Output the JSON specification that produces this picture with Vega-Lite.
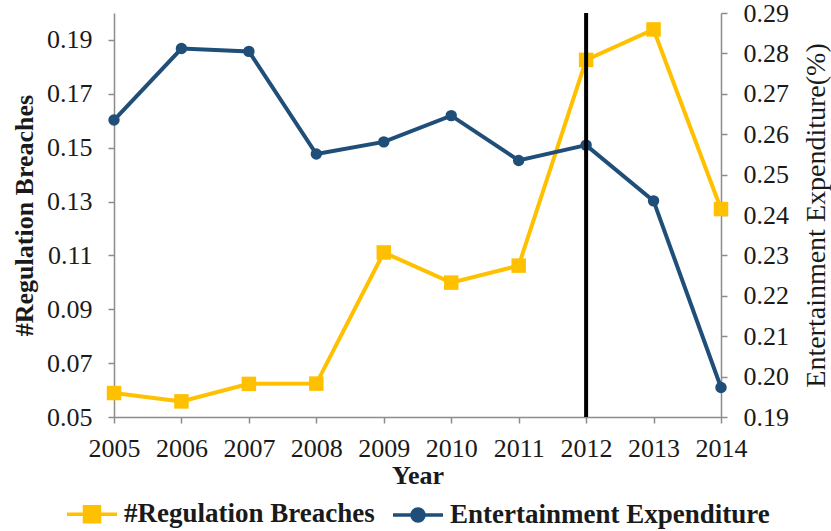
{
  "$schema": "https://vega.github.io/schema/vega-lite/v6.json",
  "width": 607,
  "height": 404,
  "autosize": {"type": "none"},
  "padding": {"left": 114, "top": 13, "right": 110, "bottom": 114},
  "background": "white",
  "config": {
    "view": {"stroke": null},
    "font": "Liberation Serif",
    "axis": {
      "grid": false,
      "domainColor": "#8c8c8c",
      "domainWidth": 1.5,
      "tickColor": "#8c8c8c",
      "tickWidth": 1.5,
      "tickSize": 6,
      "labelFont": "Liberation Serif",
      "labelFontSize": 26,
      "labelColor": "#1a1a1a",
      "labelOverlap": false,
      "labelFlush": false,
      "titleFont": "Liberation Serif",
      "titleFontSize": 26,
      "titleColor": "#1a1a1a"
    }
  },
  "data": {
    "values": [
      {"year": 2005, "series": "#Regulation Breaches", "value": 0.0589},
      {"year": 2006, "series": "#Regulation Breaches", "value": 0.0558},
      {"year": 2007, "series": "#Regulation Breaches", "value": 0.0623},
      {"year": 2008, "series": "#Regulation Breaches", "value": 0.0624},
      {"year": 2009, "series": "#Regulation Breaches", "value": 0.1111},
      {"year": 2010, "series": "#Regulation Breaches", "value": 0.0999},
      {"year": 2011, "series": "#Regulation Breaches", "value": 0.1062},
      {"year": 2012, "series": "#Regulation Breaches", "value": 0.1826},
      {"year": 2013, "series": "#Regulation Breaches", "value": 0.1939},
      {"year": 2014, "series": "#Regulation Breaches", "value": 0.1272},
      {"year": 2005, "series": "Entertainment Expenditure", "value": 0.2635},
      {"year": 2006, "series": "Entertainment Expenditure", "value": 0.2812},
      {"year": 2007, "series": "Entertainment Expenditure", "value": 0.2805},
      {"year": 2008, "series": "Entertainment Expenditure", "value": 0.2551},
      {"year": 2009, "series": "Entertainment Expenditure", "value": 0.2581},
      {"year": 2010, "series": "Entertainment Expenditure", "value": 0.2646},
      {"year": 2011, "series": "Entertainment Expenditure", "value": 0.2535},
      {"year": 2012, "series": "Entertainment Expenditure", "value": 0.2573},
      {"year": 2013, "series": "Entertainment Expenditure", "value": 0.2435},
      {"year": 2014, "series": "Entertainment Expenditure", "value": 0.1973}
    ]
  },
  "encoding": {
    "x": {
      "field": "year",
      "type": "quantitative",
      "scale": {"domain": [2005, 2014], "nice": false, "zero": false},
      "axis": {
        "title": "Year",
        "titleFontWeight": "bold",
        "values": [2005, 2006, 2007, 2008, 2009, 2010, 2011, 2012, 2013, 2014],
        "format": "d",
        "labelPadding": 12,
        "titlePadding": 1
      }
    }
  },
  "layer": [
    {
      "transform": [{"filter": "datum.series === '#Regulation Breaches'"}],
      "encoding": {
        "y": {
          "field": "value",
          "type": "quantitative",
          "scale": {"domain": [0.05, 0.2], "nice": false, "zero": false},
          "axis": {
            "orient": "left",
            "title": "#Regulation Breaches",
            "titleFontWeight": "bold",
            "values": [0.05, 0.07, 0.09, 0.11, 0.13, 0.15, 0.17, 0.19],
            "format": ".2f",
            "labelPadding": 16,
            "titlePadding": 9
          }
        },
        "color": {
          "field": "series",
          "type": "nominal",
          "scale": {"domain": ["#Regulation Breaches", "Entertainment Expenditure"], "range": ["#FFC000", "#1F4E79"]},
          "legend": {
            "orient": "none",
            "legendX": -49,
            "legendY": 474,
            "direction": "horizontal",
            "title": null,
            "symbolSize": 2500,
            "symbolStrokeWidth": 3.5,
            "labelFont": "Liberation Serif",
            "labelFontSize": 27,
            "labelFontWeight": "bold",
            "labelColor": "#1a1a1a",
            "labelOffset": 5,
            "columnPadding": 11,
            "labelLimit": 400,
            "encode": {
              "symbols": {
                "update": {
                  "shape": {"signal": "datum.value === '#Regulation Breaches' ? 'M-1,0H1M-0.3,-0.3H0.3V0.3H-0.3Z' : 'M-1,0H1M0.24,0A0.24,0.24,0,1,1,-0.24,0A0.24,0.24,0,1,1,0.24,0Z'"},
                  "fill": {"signal": "datum.value === '#Regulation Breaches' ? '#FFC000' : '#1F4E79'"},
                  "stroke": {"signal": "datum.value === '#Regulation Breaches' ? '#FFC000' : '#1F4E79'"},
                  "strokeWidth": {"value": 3.5},
                  "opacity": {"value": 1}
                }
              }
            }
          }
        }
      },
      "layer": [
        {"mark": {"type": "line", "strokeWidth": 4}},
        {"mark": {"type": "point", "shape": "square", "filled": true, "size": 210, "opacity": 1}}
      ]
    },
    {
      "transform": [{"filter": "datum.series === 'Entertainment Expenditure'"}],
      "encoding": {
        "y": {
          "field": "value",
          "type": "quantitative",
          "scale": {"domain": [0.19, 0.29], "nice": false, "zero": false},
          "axis": {
            "orient": "right",
            "title": "Entertainment Expenditure(%)",
            "titleFontWeight": "normal",
            "titleFontSize": 28,
            "titleAngle": 270,
            "titleBaseline": "top",
            "values": [0.19, 0.2, 0.21, 0.22, 0.23, 0.24, 0.25, 0.26, 0.27, 0.28, 0.29],
            "format": ".2f",
            "labelPadding": 16,
            "titlePadding": 14
          }
        },
        "color": {"field": "series", "type": "nominal"}
      },
      "layer": [
        {"mark": {"type": "line", "strokeWidth": 4}},
        {"mark": {"type": "point", "shape": "circle", "filled": true, "size": 130, "opacity": 1}}
      ]
    },
    {
      "data": {"values": [{"year": 2012}]},
      "mark": {"type": "rule", "color": "black", "strokeWidth": 4},
      "encoding": {}
    }
  ],
  "resolve": {"scale": {"y": "independent"}}
}
